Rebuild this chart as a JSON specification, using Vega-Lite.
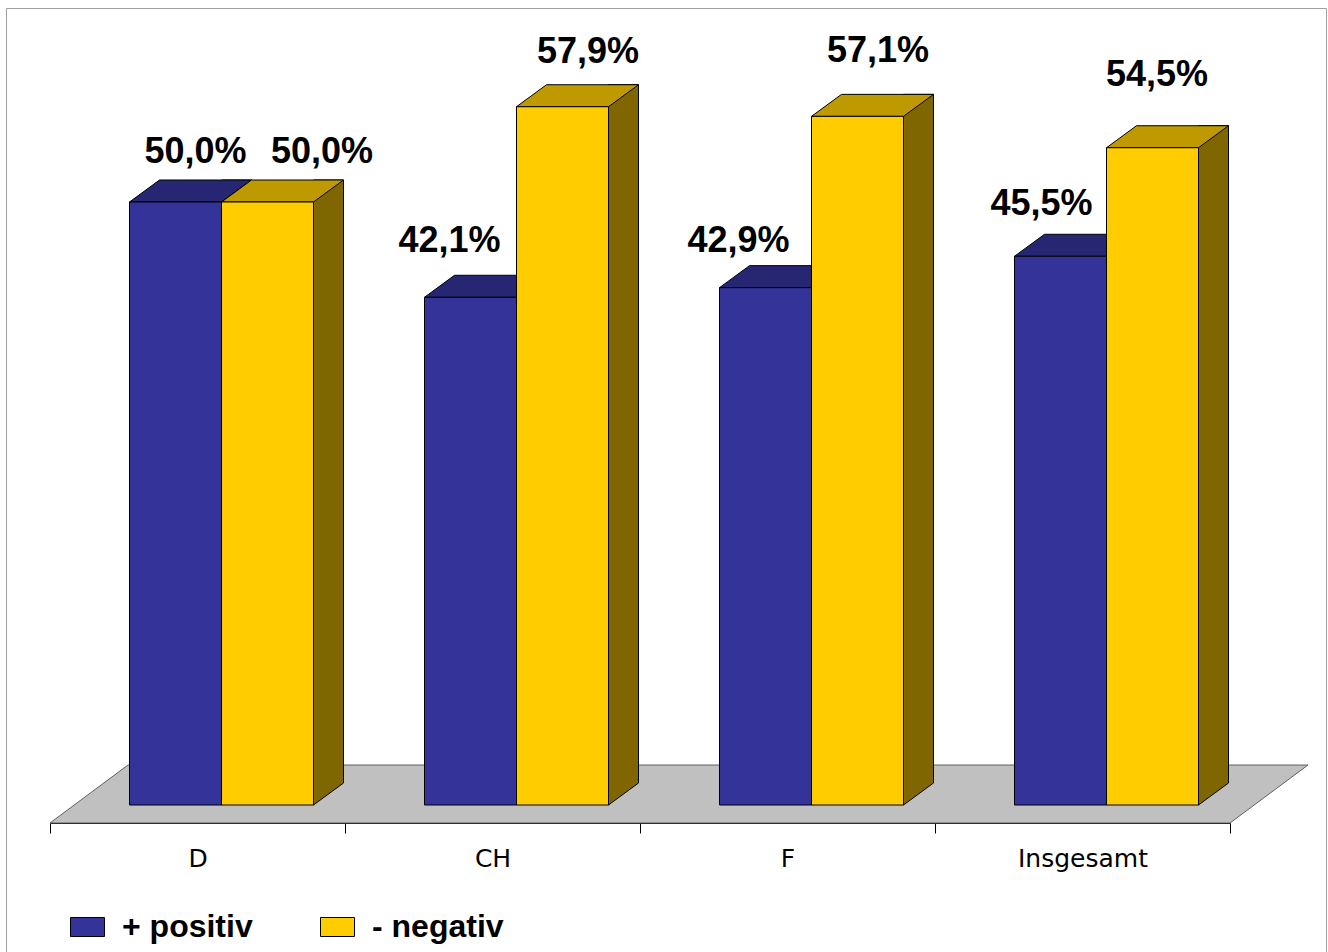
{
  "$schema": "https://vega.github.io/schema/vega-lite/v6.json",
  "width": 1320,
  "height": 944,
  "autosize": {"type": "none"},
  "padding": {"left": 6, "top": 8, "right": 2, "bottom": 0},
  "background": "white",
  "config": {
    "view": {"stroke": "#a0a0a0", "strokeWidth": 1},
    "axis": {"grid": false}
  },
  "data": {
    "values": [
      {"category": "D", "series": "+ positiv", "value": 50.0, "label": "50,0%"},
      {"category": "D", "series": "- negativ", "value": 50.0, "label": "50,0%"},
      {"category": "CH", "series": "+ positiv", "value": 42.1, "label": "42,1%"},
      {"category": "CH", "series": "- negativ", "value": 57.9, "label": "57,9%"},
      {"category": "F", "series": "+ positiv", "value": 42.9, "label": "42,9%"},
      {"category": "F", "series": "- negativ", "value": 57.1, "label": "57,1%"},
      {"category": "Insgesamt", "series": "+ positiv", "value": 45.5, "label": "45,5%"},
      {"category": "Insgesamt", "series": "- negativ", "value": 54.5, "label": "54,5%"}
    ]
  },
  "encoding": {
    "x": {
      "field": "category",
      "type": "nominal",
      "sort": ["D", "CH", "F", "Insgesamt"],
      "scale": {"range": [44, 1224], "paddingInner": 0, "paddingOuter": 0},
      "axis": {
        "title": null,
        "offset": -129,
        "labelAngle": 0,
        "domainColor": "black",
        "domainWidth": 1,
        "tickColor": "black",
        "tickWidth": 1,
        "tickSize": 10,
        "tickBand": "extent",
        "labelFont": "DejaVu Sans",
        "labelFontSize": 25,
        "labelFontWeight": "normal",
        "labelColor": "black",
        "labelPadding": 13
      }
    },
    "y": {
      "field": "value",
      "type": "quantitative",
      "stack": null,
      "scale": {"domain": [0, 50], "range": [797, 194], "nice": false, "zero": false},
      "axis": null
    }
  },
  "layer": [
    {
      "transform": [{"filter": "datum.category === 'D' && datum.series === '+ positiv'"}],
      "mark": {"type": "point", "shape": "M -147.5 18 L 1032.5 18 L 1110.5 -40 L -69.5 -40 Z", "size": 4, "filled": true, "fill": "#c0c0c0", "stroke": "#606060", "strokeWidth": 1, "opacity": 1},
      "encoding": {"y": {"datum": 0, "type": "quantitative"}}
    },
    {
      "transform": [{"filter": "datum.series === '+ positiv'"}],
      "mark": {"type": "bar", "width": 30, "xOffset": 39, "yOffset": -22, "y2Offset": 0, "fill": "#1f1f5c", "stroke": "black", "strokeWidth": 1}
    },
    {
      "transform": [{"filter": "datum.series === '- negativ'"}],
      "mark": {"type": "bar", "width": 30, "xOffset": 131, "yOffset": -22, "y2Offset": 0, "fill": "#806600", "stroke": "black", "strokeWidth": 1}
    },
    {
      "transform": [{"filter": "datum.series === '+ positiv'"}],
      "mark": {"type": "point", "shape": "M 46 0 L 76 -22 L 78 -22 L 78 2 L 46 2 Z", "size": 4, "filled": true, "fill": "#c0c0c0", "strokeWidth": 0, "opacity": 1, "xOffset": -22},
      "encoding": {"y": {"datum": 0, "type": "quantitative"}}
    },
    {
      "transform": [{"filter": "datum.series === '- negativ'"}],
      "mark": {"type": "point", "shape": "M 46 0 L 76 -22 L 78 -22 L 78 2 L 46 2 Z", "size": 4, "filled": true, "fill": "#c0c0c0", "strokeWidth": 0, "opacity": 1, "xOffset": 70},
      "encoding": {"y": {"datum": 0, "type": "quantitative"}}
    },
    {
      "transform": [{"filter": "datum.series === '- negativ'"}],
      "mark": {"type": "point", "shape": "M 46 0 L 76 -22", "size": 4, "filled": false, "stroke": "black", "strokeWidth": 1, "opacity": 1, "xOffset": 70},
      "encoding": {"y": {"datum": 0, "type": "quantitative"}}
    },
    {
      "transform": [{"filter": "datum.series === '+ positiv'"}],
      "mark": {"type": "point", "shape": "M -46 0 L 46 0 L 76 -22 L -16 -22 Z", "size": 4, "filled": true, "fill": "#262673", "stroke": "black", "strokeWidth": 1, "opacity": 1, "xOffset": -22}
    },
    {
      "transform": [{"filter": "datum.series === '- negativ'"}],
      "mark": {"type": "point", "shape": "M -46 0 L 46 0 L 76 -22 L -16 -22 Z", "size": 4, "filled": true, "fill": "#bf9900", "stroke": "black", "strokeWidth": 1, "opacity": 1, "xOffset": 70}
    },
    {
      "transform": [{"filter": "datum.series === '+ positiv'"}],
      "mark": {"type": "bar", "width": 92, "xOffset": -22, "stroke": "black", "strokeWidth": 1},
      "encoding": {
        "color": {
          "field": "series",
          "type": "nominal",
          "scale": {"domain": ["+ positiv", "- negativ"], "range": ["#333399", "#ffcc00"]},
          "legend": {
            "title": null,
            "orient": "none",
            "direction": "horizontal",
            "legendX": 65.5,
            "legendY": 903,
            "gridAlign": "none",
            "symbolType": "M -17 -9.5 H 17 V 9.5 H -17 Z",
            "symbolSize": 4,
            "symbolStrokeColor": "black",
            "symbolStrokeWidth": 1,
            "symbolOpacity": 1,
            "labelFont": "Liberation Sans",
            "labelFontSize": 32,
            "labelFontWeight": "bold",
            "labelColor": "black",
            "labelOffset": 18.5,
            "columnPadding": 65
          }
        }
      }
    },
    {
      "transform": [{"filter": "datum.series === '- negativ'"}],
      "mark": {"type": "bar", "width": 92, "xOffset": 70, "stroke": "black", "strokeWidth": 1},
      "encoding": {
        "color": {
          "field": "series",
          "type": "nominal",
          "scale": {"domain": ["+ positiv", "- negativ"], "range": ["#333399", "#ffcc00"]},
          "legend": {
            "title": null,
            "orient": "none",
            "direction": "horizontal",
            "legendX": 65.5,
            "legendY": 903,
            "gridAlign": "none",
            "symbolType": "M -17 -9.5 H 17 V 9.5 H -17 Z",
            "symbolSize": 4,
            "symbolStrokeColor": "black",
            "symbolStrokeWidth": 1,
            "symbolOpacity": 1,
            "labelFont": "Liberation Sans",
            "labelFontSize": 32,
            "labelFontWeight": "bold",
            "labelColor": "black",
            "labelOffset": 18.5,
            "columnPadding": 65
          }
        }
      }
    },
    {
      "transform": [{"filter": "datum.series === '+ positiv'"}],
      "mark": {
        "type": "text",
        "font": "Liberation Sans",
        "fontSize": 36,
        "fontWeight": "bold",
        "color": "black",
        "align": "center",
        "baseline": "alphabetic",
        "xOffset": -22,
        "dx": {"expr": "datum.category === 'D' ? 20 : datum.category === 'CH' ? -21 : datum.category === 'F' ? -27 : -19"},
        "dy": {"expr": "datum.category === 'D' ? -39 : datum.category === 'CH' ? -45 : datum.category === 'F' ? -36 : -41"}
      },
      "encoding": {"text": {"field": "label"}}
    },
    {
      "transform": [{"filter": "datum.series === '- negativ'"}],
      "mark": {
        "type": "text",
        "font": "Liberation Sans",
        "fontSize": 36,
        "fontWeight": "bold",
        "color": "black",
        "align": "center",
        "baseline": "alphabetic",
        "xOffset": 70,
        "dx": {"expr": "datum.category === 'D' ? 54.5 : datum.category === 'CH' ? 25.5 : datum.category === 'F' ? 20.5 : 4.5"},
        "dy": {"expr": "datum.category === 'D' ? -39 : datum.category === 'CH' ? -44 : datum.category === 'F' ? -54 : -62"}
      },
      "encoding": {"text": {"field": "label"}}
    }
  ]
}
